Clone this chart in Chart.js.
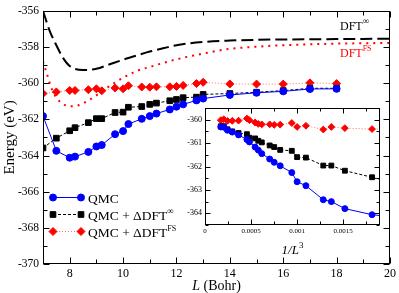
<!DOCTYPE html>
<html>
<head>
<meta charset="utf-8">
<script src="https://cdn.jsdelivr.net/npm/chart.js@4.4.1/dist/chart.umd.min.js"></script>
<style>
  body { margin: 0; background: #fff; }
  #wrap { position: relative; width: 399px; height: 293px; }
  #mainChart { position: absolute; left: 0; top: 0; }
  #insetChart { position: absolute; left: 178px; top: 100px; }
</style>
</head>
<body>
<div id="wrap">
  <canvas id="mainChart" width="399" height="293"></canvas>
  <canvas id="insetChart" width="214" height="163"></canvas>
</div>
<script>
// cell size L (Bohr)
var cellL = [7, 7.5, 8, 8.2, 8.7, 9, 9.2, 9.7, 10, 10.2, 10.7, 11, 11.25, 11.75, 12, 12.25, 12.75, 13, 14, 15, 16, 17, 18];
// energies (eV)
var qmc = [-361.82, -363.74, -364.12, -364.06, -363.8, -363.5, -363.42, -362.82, -362.65, -362.26, -361.97, -361.82, -361.68, -361.45, -361.3, -361.17, -360.95, -360.85, -360.65, -360.53, -360.45, -360.32, -360.31];
var qmcDftInf = [-363.58, -363.04, -362.63, -362.46, -362.18, -361.96, -361.96, -361.62, -361.6, -361.33, -361.29, -361.17, -361.1, -360.97, -360.9, -360.8, -360.77, -360.62, -360.57, -360.5, -360.41, -360.28, -360.28];
var qmcDftFS = [-360.57, -360.48, -360.4, -360.4, -360.36, -360.31, -360.42, -360.26, -360.31, -360.14, -360.21, -360.22, -360.2, -360.2, -360.18, -360.12, -360.02, -359.95, -360.04, -360.05, -360.05, -359.98, -360.02];

// DFT curves
var dftInfL = [7, 7.25, 7.5, 7.75, 8, 8.5, 9, 9.5, 10, 10.5, 11, 11.5, 12, 13, 14, 15, 16, 17, 18, 19, 20];
var dftInf = [-356.0, -357.1, -357.9, -358.6, -359.05, -359.27, -359.2, -358.95, -358.7, -358.47, -358.25, -358.07, -357.9, -357.72, -357.64, -357.6, -357.58, -357.57, -357.56, -357.55, -357.54];
var dftFSL = [7, 7.15, 7.3, 7.5, 7.75, 8, 8.25, 8.5, 9, 9.5, 10, 10.5, 11, 11.5, 12, 13, 14, 15, 16, 17, 18, 19, 20];
var dftFS = [-358.8, -359.5, -360.2, -360.8, -361.15, -361.27, -361.25, -361.12, -360.67, -360.15, -359.7, -359.33, -359.1, -358.88, -358.68, -358.36, -358.1, -357.98, -357.9, -357.85, -357.81, -357.79, -357.77];

// inset tick labels
var insetXTicks = [0, 0.0005, 0.001, 0.0015];
var insetYTicks = [-364, -363, -362, -361, -360];

var SERIF = '"Liberation Serif", "DejaVu Serif", serif';

function pts(xs, ys) {
    return xs.map(function (x, i) { return { x: x, y: ys[i] }; });
}
// inset uses 1/L^3 on x
function ptsInv(xs, ys) {
    return xs.map(function (x, i) { return { x: 1 / (x * x * x), y: ys[i] }; });
}

// draw text made of parts: {t, font, dy}
function drawParts(ctx, parts, x, y, align, color) {
    ctx.save();
    ctx.fillStyle = color || '#000';
    ctx.textBaseline = 'alphabetic';
    ctx.textAlign = 'left';
    var w = 0;
    parts.forEach(function (p) { ctx.font = p.font; w += ctx.measureText(p.t).width; });
    var cx = align === 'center' ? x - w / 2 : x;
    parts.forEach(function (p) {
        ctx.font = p.font;
        ctx.fillText(p.t, cx, y + (p.dy || 0));
        cx += ctx.measureText(p.t).width;
    });
    ctx.restore();
}

function isMultiple(v, step) {
    var r = v / step;
    return Math.abs(r - Math.round(r)) < 1e-6;
}

// box with inward major/minor ticks on all four sides
var frameTicks = {
    id: 'frameTicks',
    beforeDatasetsDraw: function (chart, args, o) {
        if (!o.fill) return;
        var a = chart.chartArea, ctx = chart.ctx;
        ctx.save();
        ctx.fillStyle = '#fff';
        ctx.fillRect(a.left, a.top, a.right - a.left, a.bottom - a.top);
        ctx.restore();
    },
    afterDatasetsDraw: function (chart, args, o) {
        var ctx = chart.ctx, a = chart.chartArea, xs = chart.scales.x, ys = chart.scales.y;
        var L = Math.round(a.left) + 0.5, R = Math.round(a.right) - 0.5;
        var T = Math.round(a.top) + 0.5, B = Math.round(a.bottom) - 0.5;
        ctx.save();
        ctx.strokeStyle = '#000';
        ctx.lineWidth = 1;
        ctx.strokeRect(L, T, R - L, B - T);
        ctx.beginPath();
        var nx = Math.floor((xs.max - xs.min) / o.xStep + 1e-6);
        for (var i = 0; i <= nx; i++) {
            var v = xs.min + i * o.xStep;
            var px = Math.round(xs.getPixelForValue(v)) + 0.5;
            var len = isMultiple(v, o.xMajor) ? o.major : o.minor;
            ctx.moveTo(px, B); ctx.lineTo(px, B - len);
            ctx.moveTo(px, T); ctx.lineTo(px, T + len);
        }
        var ny = Math.floor((ys.max - ys.min) / o.yStep + 1e-6);
        for (var j = 0; j <= ny; j++) {
            var w = ys.min + j * o.yStep;
            var py = Math.round(ys.getPixelForValue(w)) + 0.5;
            var l2 = isMultiple(w, o.yMajor) ? o.major : o.minor;
            ctx.moveTo(L, py); ctx.lineTo(L + l2, py);
            ctx.moveTo(R, py); ctx.lineTo(R - l2, py);
        }
        ctx.stroke();
        ctx.restore();
    }
};

// legend, axis titles and DFT labels for the main chart
var mainText = {
    id: 'mainText',
    afterDraw: function (chart) {
        var ctx = chart.ctx, a = chart.chartArea;
        var big = '15px ' + SERIF;

        // y title
        ctx.save();
        ctx.translate(10, (a.top + a.bottom) / 2);
        ctx.rotate(-Math.PI / 2);
        ctx.font = big;
        ctx.fillStyle = '#000';
        ctx.textAlign = 'center';
        ctx.textBaseline = 'middle';
        ctx.fillText('Energy (eV)', 0, 0);
        ctx.restore();

        // x title
        drawParts(ctx, [
            { t: 'L', font: 'italic 14px ' + SERIF },
            { t: ' (Bohr)', font: '14px ' + SERIF }
        ], (a.left + a.right) / 2, 290, 'center');

        // DFT curve labels
        drawParts(ctx, [
            { t: 'DFT', font: '12px ' + SERIF },
            { t: '\u221E', font: '9px ' + SERIF, dy: -6 }
        ], 340, 30, 'left', '#000');
        drawParts(ctx, [
            { t: 'DFT', font: '12px ' + SERIF },
            { t: 'FS', font: '8px ' + SERIF, dy: -6 }
        ], 340, 57, 'left', '#ff0000');

        // legend
        var rows = [
            [{ t: 'QMC', font: '13.5px ' + SERIF }],
            [{ t: 'QMC + \u0394DFT', font: '13.5px ' + SERIF }, { t: '\u221E', font: '9px ' + SERIF, dy: -6 }],
            [{ t: 'QMC + \u0394DFT', font: '13.5px ' + SERIF }, { t: 'FS', font: '8px ' + SERIF, dy: -6 }]
        ];
        var rowY = [197.5, 214.5, 231.5];
        for (var i = 0; i < 3; i++) {
            var ds = chart.data.datasets[i];
            var y = rowY[i];
            ctx.save();
            ctx.strokeStyle = ds.borderColor;
            ctx.lineWidth = ds.borderWidth;
            ctx.setLineDash(ds.borderDash || []);
            ctx.beginPath();
            ctx.moveTo(53, y);
            ctx.lineTo(81, y);
            ctx.stroke();
            ctx.restore();
            [53, 81].forEach(function (mx) {
                ctx.save();
                ctx.fillStyle = ds.pointBackgroundColor;
                ctx.strokeStyle = ds.pointBorderColor;
                ctx.lineWidth = 1;
                Chart.helpers.drawPoint(ctx, { pointStyle: ds.pointStyle, radius: ds.pointRadius, rotation: 0, borderWidth: 1 }, mx, y);
                ctx.restore();
            });
            drawParts(ctx, rows[i], 88, y + 5, 'left');
        }
    }
};

var insetText = {
    id: 'insetText',
    afterDraw: function (chart) {
        var a = chart.chartArea;
        drawParts(chart.ctx, [
            { t: '1/L', font: 'italic 13px ' + SERIF },
            { t: '3', font: '9px ' + SERIF, dy: -6 }
        ], (a.left + a.right) / 2, 154, 'center');
    }
};

function qmcSets(inset) {
    var f = inset ? ptsInv : pts;
    var r = inset ? 0.85 : 1;
    return [
        {
            label: 'QMC', data: f(cellL, qmc),
            borderColor: '#0000ff', borderWidth: 1,
            pointStyle: 'circle', pointRadius: 3.5 * r,
            pointBackgroundColor: '#0000ff', pointBorderColor: '#0000ff'
        },
        {
            label: 'QMC + \u0394DFT\u221E', data: f(cellL, qmcDftInf),
            borderColor: '#000000', borderWidth: 1, borderDash: [3, 2],
            pointStyle: 'rect', pointRadius: 4 * r,
            pointBackgroundColor: '#000000', pointBorderColor: '#000000'
        },
        {
            label: 'QMC + \u0394DFT FS', data: f(cellL, qmcDftFS),
            borderColor: '#ff7070', borderWidth: 1, borderDash: [1, 2],
            pointStyle: 'rectRot', pointRadius: 4 * r,
            pointBackgroundColor: '#ff0000', pointBorderColor: '#ff0000'
        }
    ];
}

var mainSets = qmcSets(false).concat([
    {
        label: 'DFT\u221E', data: pts(dftInfL, dftInf),
        borderColor: '#000000', borderWidth: 2, borderDash: [12, 5],
        pointRadius: 0, cubicInterpolationMode: 'monotone'
    },
    {
        label: 'DFT FS', data: pts(dftFSL, dftFS),
        borderColor: '#ff0000', borderWidth: 2, borderDash: [2, 5],
        pointRadius: 0, cubicInterpolationMode: 'monotone'
    }
]);

function tickFont(size) {
    return { family: SERIF, size: size };
}

function fixedTicks(values) {
    return function (scale) {
        scale.ticks = values.map(function (v) { return { value: v }; });
    };
}

var mainChart = new Chart(document.getElementById('mainChart').getContext('2d'), {
    type: 'line',
    data: { datasets: mainSets },
    options: {
        responsive: false,
        animation: false,
        layout: { autoPadding: false, padding: { left: 0, right: 7, top: 4, bottom: 0 } },
        plugins: {
            legend: { display: false },
            tooltip: { enabled: false },
            frameTicks: { xStep: 1, xMajor: 2, yStep: 1, yMajor: 2, major: 6, minor: 4 }
        },
        scales: {
            x: {
                type: 'linear', min: 7, max: 20,
                grid: { display: false, drawTicks: false },
                border: { display: false },
                ticks: { stepSize: 2, includeBounds: false, autoSkip: false, maxRotation: 0, padding: 3, color: '#000', font: tickFont(12) },
                afterFit: function (s) { s.height = 29; }
            },
            y: {
                type: 'linear', min: -370, max: -356,
                grid: { display: false, drawTicks: false },
                border: { display: false },
                ticks: { stepSize: 2, autoSkip: false, padding: 4, color: '#000', font: tickFont(11.5) },
                afterFit: function (s) { s.width = 43; }
            }
        }
    },
    plugins: [frameTicks, mainText]
});

var insetChart = new Chart(document.getElementById('insetChart').getContext('2d'), {
    type: 'line',
    data: { datasets: qmcSets(true) },
    options: {
        responsive: false,
        animation: false,
        layout: { autoPadding: false, padding: { left: 0, right: 12, top: 8, bottom: 0 } },
        plugins: {
            legend: { display: false },
            tooltip: { enabled: false },
            frameTicks: { fill: true, xStep: 0.00025, xMajor: 0.0005, yStep: 0.5, yMajor: 1, major: 5, minor: 3 }
        },
        scales: {
            x: {
                type: 'linear', min: 0, max: 0.0019,
                grid: { display: false, drawTicks: false },
                border: { display: false },
                afterBuildTicks: fixedTicks(insetXTicks),
                ticks: {
                    autoSkip: false, maxRotation: 0, padding: 2,
                    color: '#000', font: tickFont(7),
                    callback: function (v) { return String(parseFloat(v.toFixed(6))); }
                },
                afterFit: function (s) { s.height = 38; }
            },
            y: {
                type: 'linear', min: -364.5, max: -359.5,
                grid: { display: false, drawTicks: false },
                border: { display: false },
                afterBuildTicks: fixedTicks(insetYTicks),
                ticks: { autoSkip: false, padding: 3, color: '#000', font: tickFont(8) },
                afterFit: function (s) { s.width = 27; }
            }
        }
    },
    plugins: [frameTicks, insetText]
});
</script>
</body>
</html>
